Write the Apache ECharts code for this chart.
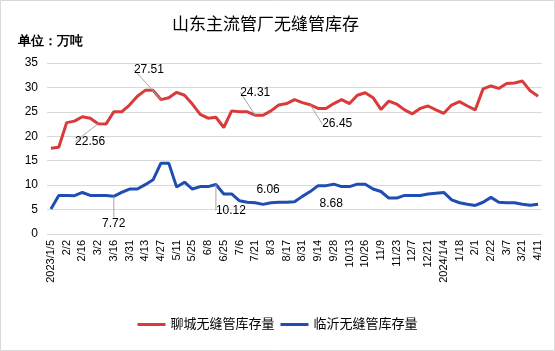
<!DOCTYPE html>
<html><head><meta charset="utf-8">
<script src="https://cdn.jsdelivr.net/npm/echarts@6/dist/echarts.min.js"></script>
<style>html,body{margin:0;padding:0;background:#fff}#c{width:555px;height:351px}</style>
</head><body><div id="c"></div>
<script>
const categories = ['2023/1/5','1/12','2/2','2/9','2/16','2/23','3/2','3/9','3/16','3/23','3/31','4/7','4/13','4/20','4/27','5/4','5/11','5/18','5/25','6/1','6/8','6/15','6/25','6/29','7/6','7/13','7/21','7/27','8/3','8/10','8/17','8/24','8/31','9/7','9/14','9/21','9/28','10/8','10/13','10/19','10/26','11/2','11/9','11/16','11/23','11/30','12/7','12/14','12/21','12/28','2024/1/4','1/11','1/18','1/25','2/1','2/8','2/22','2/29','3/7','3/14','3/21','3/28','4/11'];
const liaocheng = [17.55,17.75,22.8,23.1,24.0,23.7,22.56,22.5,25.0,25.0,26.4,28.2,29.4,29.4,27.51,27.9,29.0,28.4,26.6,24.5,23.7,23.9,21.8,25.2,25.0,25.0,24.31,24.3,25.2,26.4,26.7,27.5,26.9,26.45,25.7,25.7,26.7,27.5,26.7,28.4,28.9,27.9,25.5,27.2,26.6,25.4,24.6,25.7,26.2,25.4,24.7,26.4,27.1,26.2,25.4,29.7,30.3,29.8,30.8,30.9,31.3,29.3,28.2];
const linyi = [5.1,7.9,7.9,7.85,8.5,7.9,7.9,7.9,7.72,8.5,9.2,9.2,10.1,11.1,14.5,14.5,9.6,10.6,9.2,9.7,9.7,10.12,8.2,8.2,6.8,6.5,6.4,6.06,6.4,6.5,6.5,6.6,7.7,8.68,9.9,9.9,10.2,9.7,9.7,10.2,10.2,9.2,8.7,7.35,7.35,7.9,7.9,7.9,8.2,8.35,8.5,7.0,6.4,6.1,5.85,6.5,7.5,6.5,6.4,6.4,6.1,5.9,6.1];
const yTicks = [0,5,10,15,20,25,30,35];
const seriesNames = ['聊城无缝管库存量','临沂无缝管库存量'];
// annotated points: index -> [dx, dy, showLeader]
const redNotes = {6:[-8,18,true],14:[-12,-30,true],26:[0,-23,true],33:[27,19,true]};
const blueNotes = {8:[0,27,true],21:[15,26,true],27:[5,-15,false],33:[21,12,false]};

const FONT = "'Liberation Sans','Noto Sans CJK SC',sans-serif";
function build(vals, notes){
  return vals.map((v,i)=>{
    if(notes[i]){
      return {value:v, label:{show:true, position:'inside', formatter:String(v.toFixed(2)), color:'#000', fontSize:12, fontFamily:FONT},
              labelLine:{show:notes[i][2], lineStyle:{color:'#a6a6a6', width:1}}};
    }
    return v;
  });
}
function layoutFor(notes){
  return function(p){
    const n = notes[p.dataIndex];
    if(!n) return {};
    return {dx:n[0], dy:n[1]};
  };
}
const chart = echarts.init(document.getElementById('c'), null, {renderer:'canvas'});
chart.setOption({
  backgroundColor:'#fff',
  animation:false,
  textStyle:{fontFamily:FONT},
  title:{text:'山东主流管厂无缝管库存', left:167, top:12, textStyle:{fontSize:17, fontWeight:'normal', color:'#000', fontFamily:FONT}},
  graphic:[
    {type:'rect', shape:{x:0.5,y:0.5,width:554,height:350}, style:{fill:'none', stroke:'#d9d9d9', lineWidth:1}, silent:true, z:-1},
    {type:'text', left:18, top:35, style:{text:'单位：万吨', fontSize:13, fontWeight:'bold', fill:'#000', font:"bold 13px "+FONT}}
  ],
  legend:{bottom:15, left:'center', itemWidth:28, itemHeight:3, itemGap:6, icon:'rect',
    textStyle:{fontSize:13, color:'#000', fontFamily:FONT}, data:seriesNames},
  grid:{left:47, right:13, top:63, bottom:117},
  xAxis:{type:'category', data:categories, boundaryGap:true,
    axisLine:{show:false}, axisTick:{show:false},
    axisLabel:{interval:1, rotate:90, fontSize:11, color:'#000', margin:6, fontFamily:FONT, hideOverlap:false}},
  yAxis:{type:'value', min:yTicks[0], max:yTicks[yTicks.length-1], interval:5,
    axisLine:{show:false}, axisTick:{show:false},
    axisLabel:{fontSize:12, color:'#000', margin:9, fontFamily:FONT},
    splitLine:{lineStyle:{color:'#d9d9d9', width:1}}},
  series:[
    {name:seriesNames[0], type:'line', data:build(liaocheng, redNotes), color:'#d93a3a',
     lineStyle:{width:3, color:'#d93a3a'}, symbol:'circle', symbolSize:0, showSymbol:true, showAllSymbol:true,
     labelLayout:layoutFor(redNotes)},
    {name:seriesNames[1], type:'line', data:build(linyi, blueNotes), color:'#1f4db3',
     lineStyle:{width:3, color:'#1f4db3'}, symbol:'circle', symbolSize:0, showSymbol:true, showAllSymbol:true,
     labelLayout:layoutFor(blueNotes)}
  ]
});
</script></body></html>
